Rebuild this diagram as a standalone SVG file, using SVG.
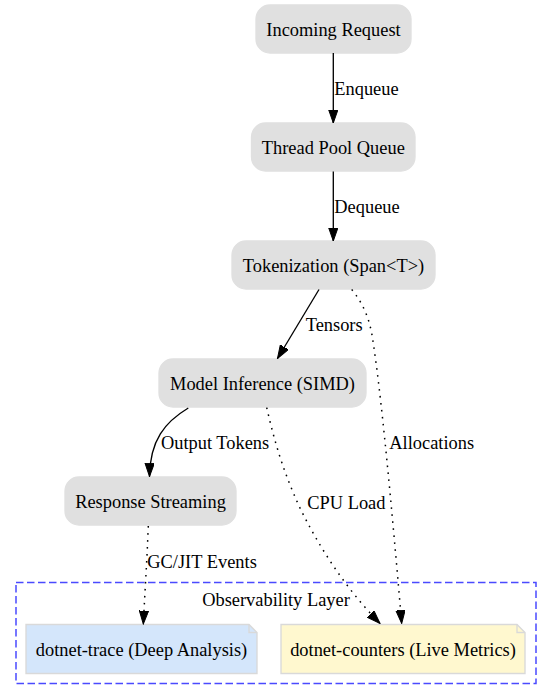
<svg xmlns="http://www.w3.org/2000/svg" width="552" height="700" viewBox="0 0 552 700">
<style>
text{font-family:"Liberation Serif","Times New Roman",serif;font-size:18.4px;fill:#000}
.node rect{fill:#e0e0e0;stroke:#e0e0e0;stroke-width:1.33}
.node text,.note text,.cl text{text-anchor:middle}
.edge path{fill:none;stroke:#000;stroke-width:1.33}
.edge path.dot{stroke-dasharray:1.6,5.4;stroke-width:1.5}
.note path{stroke:#d9d9d9;stroke-width:1.33}
.note path.fold{fill:none}
</style>
<defs>
<marker id="arr" markerUnits="userSpaceOnUse" markerWidth="14" markerHeight="10" refX="13.3" refY="4.67" orient="auto">
<path d="M0,0 L13.3,4.67 L0,9.33 Z" fill="#000" stroke="#000" stroke-width="1" stroke-dasharray="none"/>
</marker>
</defs>
<rect width="552" height="700" fill="#fff"/>
<g id="cluster" class="cl">
<rect x="16" y="582.5" width="520" height="101" fill="none" stroke="#4a4aff" stroke-width="1.5" stroke-dasharray="7.5,3.5"/>
<text x="276" y="606">Observability Layer</text>
</g>
<g id="incoming" class="node"><rect x="256" y="5" width="155" height="48" rx="14"/><text x="333.5" y="36">Incoming Request</text></g>
<g id="threadpool" class="node"><rect x="251.5" y="123" width="163.5" height="48" rx="14"/><text x="333.3" y="154">Thread Pool Queue</text></g>
<g id="tokenization" class="node"><rect x="232" y="241" width="203" height="48" rx="14"/><text x="333.5" y="272">Tokenization (Span&lt;T&gt;)</text></g>
<g id="inference" class="node"><rect x="159" y="359" width="207" height="48" rx="14"/><text x="262.5" y="390">Model Inference (SIMD)</text></g>
<g id="streaming" class="node"><rect x="65" y="477" width="171" height="48" rx="14"/><text x="150.5" y="508">Response Streaming</text></g>
<g id="trace" class="note">
<path d="M26,624.5 L249,624.5 L257,632.5 L257,673.5 L26,673.5 Z" fill="#d4e6fb"/>
<path class="fold" d="M249,624.5 L249,632.5 L257,632.5"/>
<text x="141.5" y="656">dotnet-trace (Deep Analysis)</text>
</g>
<g id="counters" class="note">
<path d="M281,624.5 L517,624.5 L525,632.5 L525,673.5 L281,673.5 Z" fill="#fff8cf"/>
<path class="fold" d="M517,624.5 L517,632.5 L525,632.5"/>
<text x="403" y="656">dotnet-counters (Live Metrics)</text>
</g>
<g id="edges" class="edge">
<path d="M333.3,53 L333.3,123" marker-end="url(#arr)"/>
<text x="334.3" y="95.3">Enqueue</text>
<path d="M333.3,171.5 L333.3,241" marker-end="url(#arr)"/>
<text x="334.3" y="213.3">Dequeue</text>
<path d="M319,289.5 L277.5,358.5" marker-end="url(#arr)"/>
<text x="305.7" y="331">Tensors</text>
<path class="dot" d="M351.7,289.5 C363,303 369,318 372,335 C381,390 392,510 401.7,623.5" marker-end="url(#arr)"/>
<text x="389.3" y="449.3">Allocations</text>
<path d="M188.3,408 C165,422 150,440 149.5,476.5" marker-end="url(#arr)"/>
<text x="161" y="449.3">Output Tokens</text>
<path class="dot" d="M266.7,407.7 C272,430 280,465 300,508 C318,545 345,588 380,623.5" marker-end="url(#arr)"/>
<text x="307.3" y="509.3">CPU Load</text>
<path class="dot" d="M148.3,526 C147,560 145,590 143.3,624" marker-end="url(#arr)"/>
<text x="147.3" y="567.7">GC/JIT Events</text>
</g>
</svg>
